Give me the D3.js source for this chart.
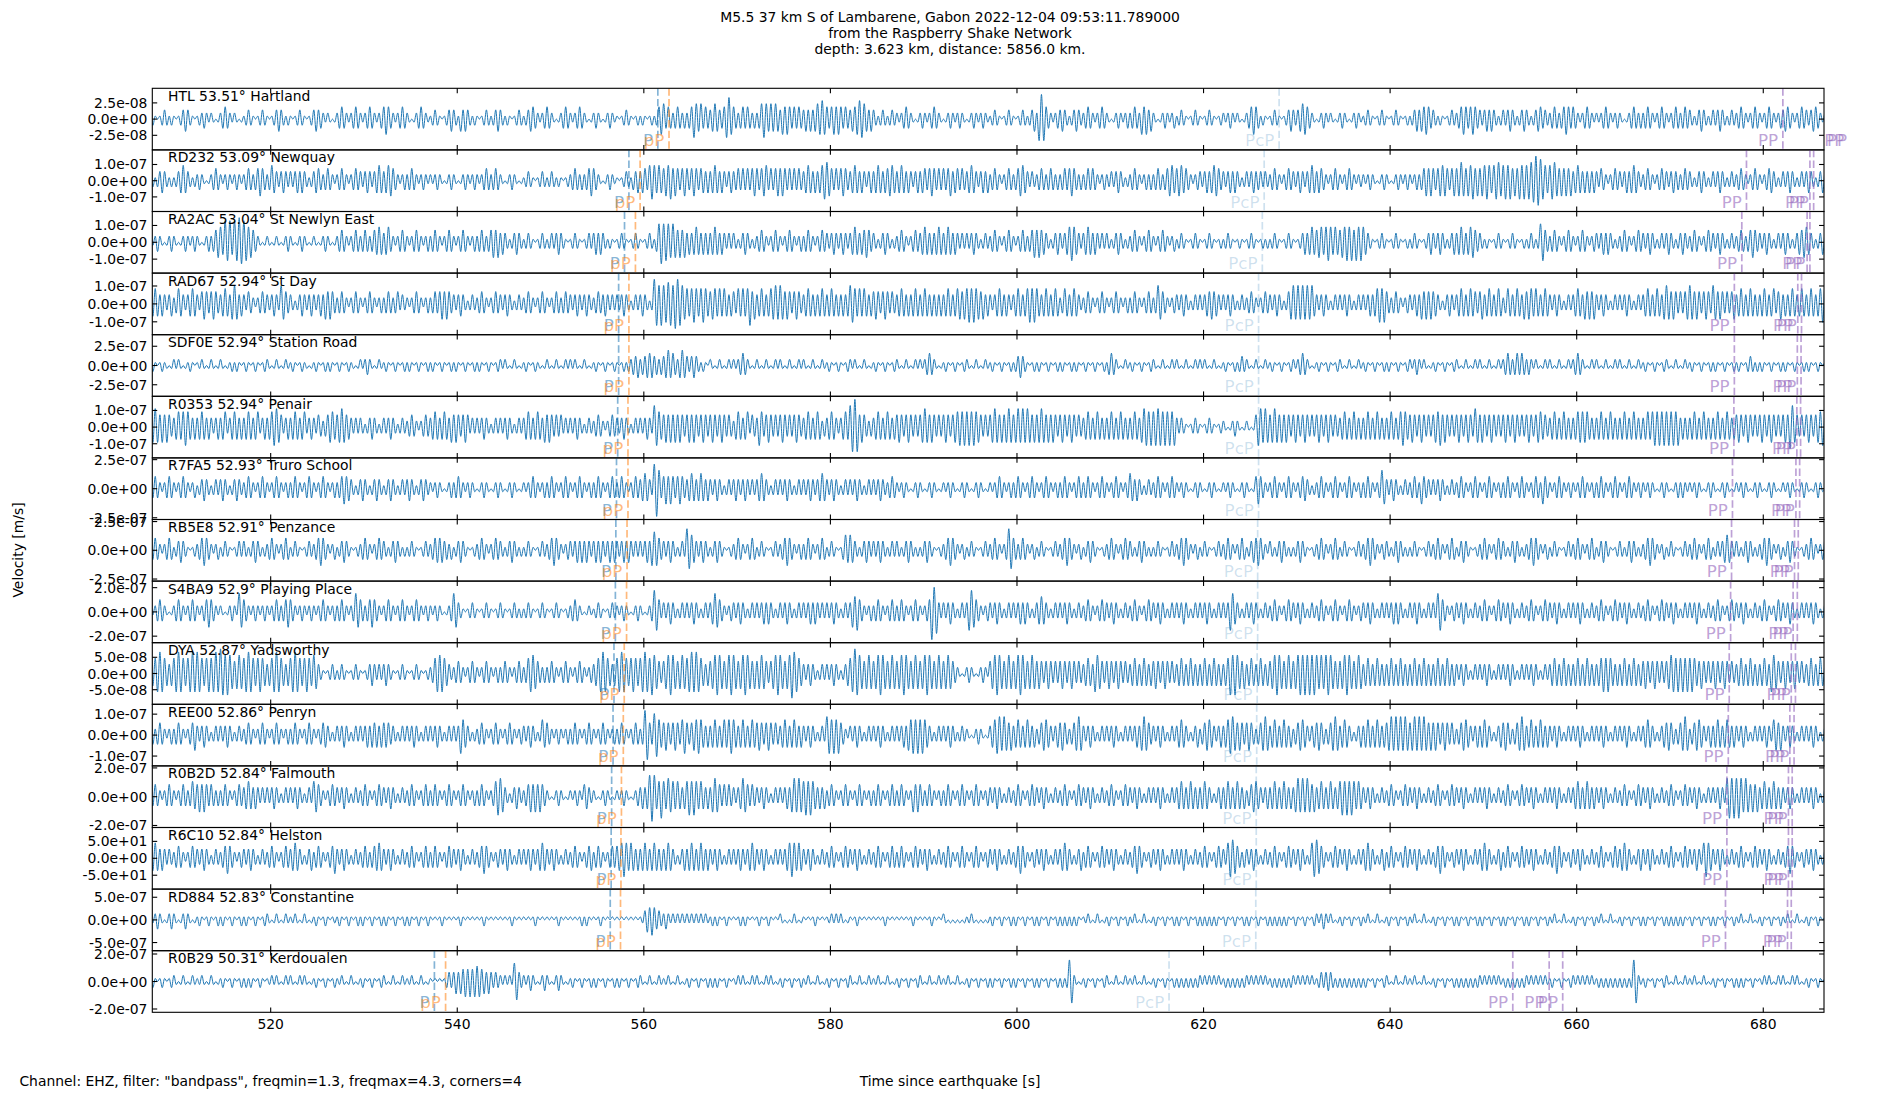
<!DOCTYPE html>
<html><head><meta charset="utf-8">
<script src="https://cdn.jsdelivr.net/npm/d3@7"></script>
<style>body{margin:0;background:#fff} svg{display:block} text{font-family:"DejaVu Sans",sans-serif}</style>
</head><body><svg id="c" width="1900" height="1100"></svg>
<script>
// ---------------- data ----------------
const stations = ["HTL","RD232","RA2AC","RAD67","SDF0E","R0353","R7FA5","RB5E8","S4BA9","DYA","REE00","R0B2D","R6C10","RD884","R0B29"];
const distances = ["53.51","53.09","53.04","52.94","52.94","52.94","52.93","52.91","52.9","52.87","52.86","52.84","52.84","52.83","50.31"];
const places = ["Hartland","Newquay","St Newlyn East","St Day","Station Road","Penair","Truro School","Penzance","Playing Place","Yadsworthy","Penryn","Falmouth","Helston","Constantine","Kerdoualen"];
const yTickValues = [2.5e-8,1e-7,1e-7,1e-7,2.5e-7,1e-7,2.5e-7,2.5e-7,2e-7,5e-8,1e-7,2e-7,50,5e-7,2e-7];
const yTickLabels = ["2.5e-08","1.0e-07","1.0e-07","1.0e-07","2.5e-07","1.0e-07","2.5e-07","2.5e-07","2.0e-07","5.0e-08","1.0e-07","2.0e-07","5.0e+01","5.0e-07","2.0e-07"];
const yLimits = [4.75e-8,1.9e-7,1.83e-7,1.72e-7,4.0e-7,1.85e-7,2.65e-7,2.68e-7,2.54e-7,9.5e-8,1.47e-7,2.14e-7,91,6.8e-7,2.24e-7];
const timeWindow = [507.31, 686.51];
const xTicks = [520,540,560,580,600,620,640,660,680];
const pTimes   = [561.5,558.4,557.93,557.3,557.3,557.2,557.07,557.0,556.95,556.8,556.7,556.55,556.5,556.4,537.55];
const pPTimes  = [562.7,559.6,559.1,558.4,558.4,558.3,558.3,558.2,558.15,557.9,557.8,557.6,557.55,557.5,538.75];
const pcpTimes = [628.1,626.5,626.3,625.9,625.9,625.9,625.9,625.8,625.8,625.75,625.7,625.65,625.65,625.6,616.3];
const ppTimes  = [[682.1,689.2,689.5],[678.2,685.0,685.4],[677.7,684.7,685.0],[676.9,683.7,684.1],[676.9,683.65,684.05],[676.85,683.6,684.0],[676.7,683.5,683.9],[676.6,683.35,683.75],[676.5,683.2,683.65],[676.35,683.0,683.45],[676.25,682.85,683.3],[676.1,682.7,683.1],[676.1,682.7,683.1],[675.95,682.6,683.0],[653.15,657.05,658.5]];
// trace extrema: one 10-s window per "|" group from traceStart; each digit = peak size in tenths of the panel half-range, polarity alternating
const traceStart = 507;
const traceHTL = "3210123212 1012343210 1223212101 2343212101|1232101232 1012343212 1012321012 3433212101|2343212343 2123432123 4543212343 2101234321|1232101234 3214343212 1012321234 3212101232|1234432123 4321012343 2123432101 2321012321|1012321012 1210121245 5343234323 2346545343|3454334675 4323434323 2356545454 3545434343|3434345565 4345454343 3445665434 3212321232|2123432101 2321234321 0123212321 0123212321|1232101232 1012321234 2787432123 3432123432|2343212343 2101232123 2343254534 2101232123|1232101232 1012321012 2123212101 2345431210|1232101234 3234554321 0123212101 2321012321|1232101232 1012321012 1234344543 3212101232|2345434543 3234343212 3234321234 3212344332|2343234543 4321234321 2123432123 2101234323|2343212343 2123432343 3212343212 3234321232|2343212343 2123432123 3443212343 3234432123";
const traceRD232 = "4212343212 1234543212 2321012343 2123212321|2343234543 2354323432 3234343212 3443234321|2343212343 3234323454 3455432123 2343212321|2123210123 2101232123 2123432343 2101232101|1232101232 1232121012 2343232345 4321012321|1012321334 3443565454 4556454345 4345434434|3454343234 3343434345 4345534345 4543434343|3454343456 6543434543 3454343234 3454344554|3454343234 3443454343 4345344343 3454323434|2343212343 2345543232 2343234323 2343454323|2343432123 2232343212 2343212323 2343234554|4554432123 3234345543 3234343212 3234333232|2343212343 3234323454 3443212343 2123432122|2123210123 2101232123 2123234545 4345554345|4565455645 4556545665 5656454656 5667887654|5665454545 3454343434 3243212343 3234345432|2343212343 3234332343 3212343212 3234321232|2343212343 2123443212 3234321232 3432123432";
const traceRA2AC = "2123210123 2101232123 2101232345 5476747687|7655432101 2101210123 2101232101 2101232101|2343212343 2343234454 3453212343 2123432123|2343212343 2123432123 2343234545 3432123432|1232101232 1232343210 1232101232 3434321210|1232101232 1012321367 6665654545 3434543434|3454343232 3212343212 2343212343 2123432123|2343212343 3234323432 3454344543 3212343212|2343212343 3454343454 3454343232 3234321232|2343212343 2123432345 4544321234 3234565432|3454343232 3212343212 2343212343 2123432123|1232101232 1012321012 1232101210 1232101212|1232101232 1012343454 4554565454 4556564656|5432101232 1012321012 1232101234 3234321234|3454345543 3212101232 1012321012 1232126643|2343212343 2123432123 3234343212 2343212343|3234321232 3432123432 2343212343 3234321232|2343234543 3234321232 3432123445 5432123432";
const traceRAD67 = "3454343234 2354323454 3245434543 3454356534|3243212343 3234326543 3212343234 3234354543|2343212343 2123432123 2343234232 2123432123|2343454543 3234321232 2343212343 3234321232|2343212343 2123432343 3234323432 2343343232|3234321232 3432128767 6677688765 5456545654|4554545434 4354545745 3454345565 6545434543|3454343454 3454343434 6654545434 4543454343|3454343454 3454343434 3454345545 5656554534|3234543432 3454345656 5434543454 2354345432|2343212343 2123432123 2343212343 2365432123|3234321232 3234454432 3234321232 2343212343|3234321245 6565656564 3234321232 3234321232|3234345656 4323432123 3234354545 4432123432|3454345443 4534543454 2354345435 4554543454|3234321232 3454354545 3234321232 3234321232|3454345435 6545434345 6545434543 6545434345|3454345434 3454345345 3434543454 3454345677";
const traceSDF0E = "1210121101 2121011210 1121012101 2101121210|1210121012 2101210121 1210121101 1210121210|1210121101 2123210121 1210121012 1210121012|1210121012 1210121012 1210121012 2121012101|1210121101 2101210121 2121012101 1210121012|1012122334 2334443323 3454432454 3234321210|2101210121 2123432101 2101210121 2101210121|2101210121 1210121012 2121012101 1210121012|2101210121 2123432101 1210121012 2101210121|1210121012 1234321012 1210121012 1210121210|1210121012 1343210121 1210121012 2101210121|2101210121 2121012101 1210121232 2101210121|1210121012 2123432101 1210121012 2101210121|1210121012 1210121012 2123212101 1210121012|2101210121 2101210121 2343234343 2321210121|2101210121 2343210121 2101210121 2101210121|1210121012 2101210121 1210121012 1210121012|1210123212 1210121012 1210121012 1210121012";
const traceR0353 = "4565454543 3454565434 3454343234 3452345434|3454345234 3456654234 3454345234 3243234554|4565443232 3212343212 3234321232 2343212343|3454345435 4543454232 3234321232 3234321232|3454345435 4543434232 3234321232 2343212343|3234321232 3234327654 4545454543 4545434543|4543454343 2454345243 3653454343 4543434543|3454345423 3454323454 7898454323 3454345434|4543454343 4565454343 4543455656 5656554343|4565454565 4565656545 4565454543 4543454343|3454345434 3454345434 3454356656 5666565656|3232101232 1012321012 2101232101 2101466565|4565454543 4543454343 4543454343 3454345434|3454345434 3454345654 4543454343 4556454343|4543454365 4543454343 4543454343 4543455443|3454345434 3455555434 3454345434 3454345434|3454565656 5656563434 3454345434 3454345434|4543454343 4543454343 4547754343 4543455656";
const traceR7FA5 = "2343212343 2123432123 1234321232 3432123432|2343212343 2123432123 2343212343 2123432123|2345443212 3432123432 1234321232 3432123432|2123210123 2343212321 0123210123 2101232101|2123432123 2343212343 2123432123 2343212343|2343212343 3454328963 4545434543 3454345434|3234321232 3432343232 3454321232 3234321232|3234323454 3234321232 3234321232 3234322343|2123210123 2101232101 2123210123 2101232101|2123432123 2343212343 2123432123 2343212343|2343212343 2123432123 5434321232 2343212343|2123210123 2101232101 2123210123 2101454321|2343212343 2123443212 2343212343 2123432123|2343212365 3234321232 2343254332 3234321232|2343212343 2123432123 2343212343 2123432543|2123432123 2123432123 2343212343 2123432123|2123210123 2101232321 2123210123 2101232101|2123210123 2101232101 2123210123 2101232101";
const traceRB5E8 = "2343212343 1234321012 2345432123 1232101232|3212343212 2343212343 1232101232 2345432123|1234321012 2343212343 3212343212 1232101232|2344443323 1234321012 2343212343 3212343212|1232101232 2345432123 3234343432 3434323434|3234343232 3234356543 3234321232 7654323432|1234321012 2343212343 1232101232 2345432123|2343212343 1232101354 5432123432 3234321232|3212343212 1234321012 2345432123 1232101232|2343212376 4323432123 1232101232 2345432123|1234321012 2343212343 3212343212 1232101232|2345432123 1232101232 2343212343 1234454321|3212343212 1234321012 2343212343 1232101232|2345432123 3212343212 1232101232 2343212343|1234321012 2343212343 3212343212 2345432123|1232101232 2343212343 1234321012 3212343212|2345432123 1232101232 2343212343 1232345432|3212343212 2345432123 1234321012 2343212343";
const traceS4BA9 = "2123432101 2343212343 2123454321 2101232165|4321232123 2123432345 4321232123 2123432123|2343212365 4323454321 2343212343 2123432123|2123210123 6532101232 1012321012 3210123212|1232101232 1012321012 2343210121 1232101232|2123210123 2101237642 3234321232 3234321232|3465432123 3234321232 3234343212 3234321232|3234343232 3234321232 3556432123 2343212343|2343212343 2123498732 3234321232 3675432123|3234321232 3234343212 3454321232 3234321232|2343212343 3234321232 2343212343 3234321232|3234321232 3234321232 3236643212 3234321232|2343212343 3234321232 2343212343 2123432123|3234321232 3234343212 3234321232 3266432123|3234321232 2343212343 3234321232 2343212343|3234321232 3234321232 2343212343 3234321232|2343212343 3234321232 3234321232 2343212343|3234321232 2343212343 3234321232 3234321232";
const traceDYA = "3456765434 5676545676 7654565676 8767654565|5676545654 3456765434 5676545654 6532101232|1232101232 1012343232 3432101232 1012321012|2356665432 2343212343 2123432123 2343212343|2356654323 2343212343 2123432123 3456765434|5676545654 5676576543 4567654565 5676765434|4567654567 6545676545 4565434567 6545687654|3234321232 3234321234 5687654565 4567654565|4567654565 4567654565 4565432101 2321012321|4567654565 4567654565 4543454343 4543454343|3454366543 4543454343 3454345434 4543454343|3454345434 3454345434 3457676545 3454345434|4567654565 4567676767 6565676545 4567654565|3454345434 3454345434 3454345434 3454345434|3234321232 3234321232 3234321232 3234321232|3454345434 3454345434 3456565434 3454345434|4543454343 4566565656 5654454343 4543454343|3454345434 3454366543 4543454343 3454345434";
const traceREE00 = "4323432123 2343212345 3234321232 3234321232|2343212343 2123432123 2343212343 2123443212|3234321232 3234344434 4443321232 3234321232|3234321232 3236543212 2343212343 2123432123|3234321254 4321232123 2343212343 2123432123|2343212343 2388437754 4543454356 4345565434|3454345456 5434543454 4543454343 3454345434|3234321232 6656564321 3234321232 3234321232|3234355656 5654321232 3234321232 2101232101|3456656545 3454345434 2345543234 4543234565|3234321232 3234321232 3234356543 3234321232|3454321234 2345543234 3456654543 4543234565|3454345434 2345543234 4543234565 3454321234|3454345434 4565656565 4565656545 4543454343|2345543234 3454321234 4543234565 3454345434|3234321232 3234321232 3234321232 3234321232|3454321234 4543234565 2345543234 3454345434|3234321232 3234325545 3234321232 3234321232";
const traceR0B2D = "2343212343 2123432354 4545434323 2343212343|3454343232 3234321232 3234321232 5543212343|3234321232 2343212343 3234321232 2343212343|2343212343 2123432123 2343212356 6532123432|2345454543 2101232101 2123214432 2101232101|2123210123 3434787457 5465545434 5656545434|3565434343 3234654343 3234321232 3234356565|5656543434 2343212343 2123432123 2343212343|2343212545 4323432123 2343212343 2123432123|3234321232 2343212343 3234321232 2343212343|3234321232 2343212343 3234321232 3234321232|3454345434 3454321234 3454345434 2345543234|3454345434 3565656545 3454345434 5656565454|3234321232 2343212343 3234321232 2343212343|3234321232 3234321232 2343212343 3234321232|3234321232 3454345434 3234321232 2343212343|3234321232 2343212343 3234321232 3234326767|6765654545 3454345434 3234321232 3234321232";
const traceR6C10 = "3454343232 2343212343 3234321232 2345432123|3234321232 2343212343 3454321234 2343212345|3234321232 2343234454 3234321232 2343212343|2343212343 3234321232 2345432123 3234321232|3234323454 3234321232 2343212344 2343212343|4456545434 3454345434 3454321234 3454345434|3234321232 3234323454 3234321232 3234565454|3234321232 2343212343 3234321232 2343212343|2343212343 3234321232 2343212343 2123432123|3234321232 2345432123 3234321232 3454321234|2343212343 3234321232 2345432123 3234321232|3234321232 2343212343 3256654323 3234321232|2343212343 3234321256 6543212343 3234321232|3454321234 2343212343 3234321232 2345432123|3234321232 3454321234 2343212343 3234321232|2345432123 3234321232 2343212343 3454321234|3234321232 2343212343 3234325654 3234321232|2343212343 3234321232 2345432123 3234321232";
const traceRD884 = "2123210123 2101232101 1210121012 1210121012|1210121012 2101210121 1121012101 1210121011|1210121012 1210121012 1210121012 1210121012|1010121010 1012101010 1012101010 1010121010|1010121010 1010121010 1010121210 1012101010|1010101010 1134454332 2321212121 2121212121|1212101210 1012121010 1210121010 2101012101|1010121010 1121212101 1012101010 1010121010|1010101210 1010121010 2101010101 1121010101|1210121012 1210121012 1210121012 1212121210|1121012101 1210121012 1121012101 1210121012|1210121012 1212121210 1210121012 1210121012|1212121210 1210121012 2123212101 1210121012|1121012101 1210121012 1121012101 1210121012|1210121012 1210121012 1210121012 1210121012|1121012101 1210121012 1121012101 1210121012|1210121012 1212121210 1210121012 1210121012|1121012101 1210121012 1121012101 1210121012";
const traceR0B29 = "1210121012 2101210121 1121012101 1210121012|1212101210 1121210121 2101212101 1210121012|1121012101 1210121012 2101210121 1121012101|1010101232 3434454545 5544343232 2121216632|2123210123 2101232101 1210121012 1210121012|1210121012 2101210121 1121012101 1210121012|1212101210 1121210121 2101212101 1210121012|1121012101 1210121012 2101210121 1121012101|1210121012 2101210121 1121012101 1210121012|1210121012 1210121012 1210121012 1212772101|1210121012 2101210121 1121012101 1210121012|1212121212 2121212121 1212121212 2121212121|1212121212 2121212121 1232333212 1212121212|1210121012 2101210121 1121012101 1210121012|1212121212 2121212121 1212121212 2121212121|1210121012 2121212121 1212121212 1212127721|1210121012 2101210121 1121012101 1210121012|1212101210 1121210121 2101212101 1210121012";
const traces = [traceHTL,traceRD232,traceRA2AC,traceRAD67,traceSDF0E,traceR0353,traceR7FA5,traceRB5E8,traceS4BA9,traceDYA,traceREE00,traceR0B2D,traceR6C10,traceRD884,traceR0B29];
const titleLines = ["M5.5 37 km S of Lambarene, Gabon 2022-12-04 09:53:11.789000","from the Raspberry Shake Network","depth: 3.623 km, distance: 5856.0 km."];

// ---------------- drawing ----------------
const L = 152.3, R = 1824, T = 88.3, PH = 61.6, TICK = 4.9;
const FS = 13.9, PFS = 16.7;
const svg = d3.select("#c");
svg.append("rect").attr("width",1900).attr("height",1100).attr("fill","#fff");
const x = d3.scaleLinear().domain(timeWindow).range([L, R]);

function decode(str){
  const groups = str.split("|").map(g => g.replace(/\s+/g,""));
  const pts = []; let k = 0;
  groups.forEach((g, gi) => {
    const n = g.length;
    for (let j = 0; j < n; j++){
      pts.push([traceStart + gi*10 + (j + 0.5)*10/n, (k % 2 ? -1 : 1) * (+g[j]) / 10]);
      k++;
    }
  });
  return pts;
}

const phaseStyle = {
  P:   {color:"rgba(31,119,180,0.55)"},
  pP:  {color:"rgba(255,127,14,0.55)"},
  PcP: {color:"rgba(31,119,180,0.22)"},
  PP:  {color:"rgba(148,103,189,0.62)"}
};
const defs = svg.append("defs");

stations.forEach((st, i) => {
  const top = T + i*PH, bot = top + PH;
  const yl = yLimits[i];
  const y = d3.scaleLinear().domain([-yl, yl]).range([bot, top]);
  defs.append("clipPath").attr("id","clip"+i).append("rect")
    .attr("x",L).attr("y",top).attr("width",R-L).attr("height",PH);
  const g = svg.append("g");
  const gc = g.append("g").attr("clip-path","url(#clip"+i+")");
  const pts = decode(traces[i]).map(p => [p[0], p[1]*yl]);
  const line = d3.line().x(d => x(d[0])).y(d => y(d[1])).curve(d3.curveMonotoneX);
  gc.append("path").attr("d", line(pts)).attr("fill","none")
    .attr("stroke","#1f77b4").attr("stroke-width",1).attr("stroke-linejoin","round");

  const phases = [["P",pTimes[i]],["pP",pPTimes[i]],["PcP",pcpTimes[i]]]
    .concat(ppTimes[i].map(t => ["PP",t]));
  phases.forEach(([name,t]) => {
    const c = phaseStyle[name].color;
    gc.append("line").attr("x1",x(t)).attr("x2",x(t)).attr("y1",top).attr("y2",bot)
      .attr("stroke",c).attr("stroke-width",1.7).attr("stroke-dasharray","7.4,3.2");
    g.append("text").attr("x",x(t)-4.7).attr("y",bot-3.9).attr("text-anchor","end")
      .attr("font-size",PFS).attr("fill",c).text(name);
  });

  g.append("rect").attr("x",L).attr("y",top).attr("width",R-L).attr("height",PH)
    .attr("fill","none").attr("stroke","#000").attr("stroke-width",1.1);
  xTicks.forEach(v => {
    g.append("line").attr("x1",x(v)).attr("x2",x(v)).attr("y1",top).attr("y2",top+TICK).attr("stroke","#000").attr("stroke-width",1.1);
    g.append("line").attr("x1",x(v)).attr("x2",x(v)).attr("y1",bot-TICK).attr("y2",bot).attr("stroke","#000").attr("stroke-width",1.1);
  });
  const tv = yTickValues[i];
  const ticks = [[tv, yTickLabels[i]],[0,"0.0e+00"],[-tv,"-"+yTickLabels[i]]];
  ticks.forEach(([v,lab]) => {
    const yy = y(v);
    g.append("line").attr("x1",L).attr("x2",L+TICK).attr("y1",yy).attr("y2",yy).attr("stroke","#000").attr("stroke-width",1.1);
    g.append("line").attr("x1",R-TICK).attr("x2",R).attr("y1",yy).attr("y2",yy).attr("stroke","#000").attr("stroke-width",1.1);
    g.append("text").attr("x",L-4.9).attr("y",yy+5).attr("text-anchor","end")
      .attr("font-size",FS).attr("fill","#000").text(lab);
  });
  g.append("text").attr("x",168).attr("y",top+12.4).attr("font-size",FS).attr("fill","#000")
    .text(st + " " + distances[i] + "\u00b0 " + places[i]);
  if (i === stations.length - 1){
    xTicks.forEach(v => {
      g.append("text").attr("x",x(v)).attr("y",bot+16.3).attr("text-anchor","middle")
        .attr("font-size",FS).attr("fill","#000").text(v);
    });
  }
});

titleLines.forEach((s, k) => {
  svg.append("text").attr("x",950).attr("y",21.6 + k*16.3).attr("text-anchor","middle")
    .attr("font-size",FS).attr("fill","#000").text(s);
});
svg.append("text").attr("transform","translate(23,550) rotate(-90)").attr("text-anchor","middle")
  .attr("font-size",FS).attr("fill","#000").text("Velocity [m/s]");
svg.append("text").attr("x",19.4).attr("y",1086).attr("font-size",FS).attr("fill","#000")
  .text('Channel: EHZ, filter: "bandpass", freqmin=1.3, freqmax=4.3, corners=4');
svg.append("text").attr("x",950).attr("y",1086).attr("text-anchor","middle")
  .attr("font-size",FS).attr("fill","#000").text("Time since earthquake [s]");
</script></body></html>
